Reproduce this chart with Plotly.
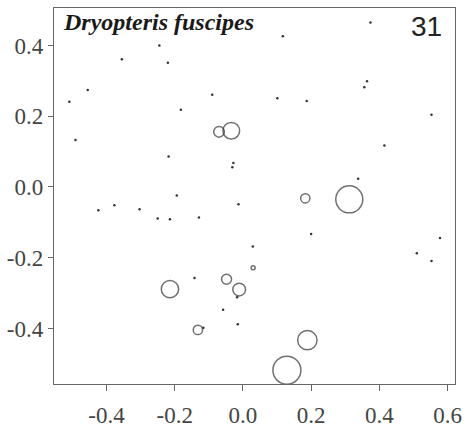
import plotly.graph_objects as go

# Small points (x, y)
dot_x = [-0.245, -0.355, -0.220, -0.455, -0.509, -0.182, -0.491, -0.218, -0.194,
         0.117, -0.090, 0.101, 0.187, -0.028, -0.031, 0.374, 0.364, 0.356, 0.553,
         0.415, 0.338, -0.424, -0.377, -0.303, -0.250, -0.214, -0.013, -0.129,
         0.200, 0.029, -0.142, -0.017, -0.058, -0.015, -0.116, 0.578, 0.510, 0.553]
dot_y = [0.400, 0.361, 0.351, 0.274, 0.241, 0.218, 0.133, 0.086, -0.024,
         0.426, 0.261, 0.251, 0.243, 0.068, 0.056, 0.465, 0.299, 0.282, 0.204,
         0.117, 0.023, -0.066, -0.052, -0.063, -0.089, -0.091, -0.049, -0.086,
         -0.133, -0.168, -0.257, -0.312, -0.347, -0.388, -0.398, -0.144, -0.187, -0.209]

# Circles (x, y, abundance shown as circle diameter)
circ_x = [-0.070, -0.034, 0.183, 0.312, -0.214, 0.030, -0.048, -0.011, -0.132, 0.189, 0.129]
circ_y = [0.156, 0.159, -0.032, -0.035, -0.289, -0.228, -0.261, -0.290, -0.404, -0.433, -0.518]
circ_abund = [10.7, 16.7, 9.3, 27, 17.3, 4, 10, 12.7, 9.3, 19.3, 28]

x_tickvals = [-0.4, -0.2, 0.0, 0.2, 0.4, 0.6]
x_ticktext = ["-0.4", "-0.2", "0.0", "0.2", "0.4", "0.6"]
y_tickvals = [-0.4, -0.2, 0.0, 0.2, 0.4]
y_ticktext = ["-0.4", "-0.2", "0.0", "0.2", "0.4"]

species = "Dryopteris fuscipes"
panel = "31"

SERIF = "Liberation Serif"

fig = go.Figure()
fig.add_trace(go.Scatter(
    x=dot_x, y=dot_y, mode="markers",
    marker=dict(symbol="circle", size=2.5, color="#333333", line=dict(width=0)),
    showlegend=False, hoverinfo="skip"))
fig.add_trace(go.Scatter(
    x=circ_x, y=circ_y, mode="markers",
    marker=dict(symbol="circle-open", size=circ_abund, sizemode="diameter",
                color="#333333", line=dict(width=1.5)),
    showlegend=False, hoverinfo="skip"))

axis_common = dict(showgrid=False, zeroline=False, showline=True, mirror=True,
                   linecolor="#666666", linewidth=1.3, ticks="outside",
                   tickcolor="#666666", tickwidth=1.2, automargin=False,
                   tickfont=dict(family=SERIF, size=23, color="#444444"))

fig.update_xaxes(range=[-0.554, 0.622], tickvals=x_tickvals, ticktext=x_ticktext,
                 ticklen=6, ticklabelstandoff=4, **axis_common)
fig.update_yaxes(range=[-0.557, 0.506], tickvals=y_tickvals, ticktext=y_ticktext,
                 ticklen=5, ticklabelstandoff=0, **axis_common)

fig.add_annotation(text="<b><i>" + species + "</i></b>", xref="paper", yref="paper",
                   x=0.018, y=0.963, xanchor="left", yanchor="middle", showarrow=False,
                   font=dict(family=SERIF, size=24, color="#1a1a1a"))
fig.add_annotation(text=panel, xref="paper", yref="paper",
                   x=0.9726, y=0.952, xanchor="right", yanchor="middle", showarrow=False,
                   font=dict(family="Liberation Sans", size=28, color="#222222"))

fig.update_layout(width=476, height=429, margin=dict(l=54, r=21, t=8, b=45, autoexpand=False),
                  plot_bgcolor="white", paper_bgcolor="white",
                  font=dict(family=SERIF))

fig.write_html("out.html")
